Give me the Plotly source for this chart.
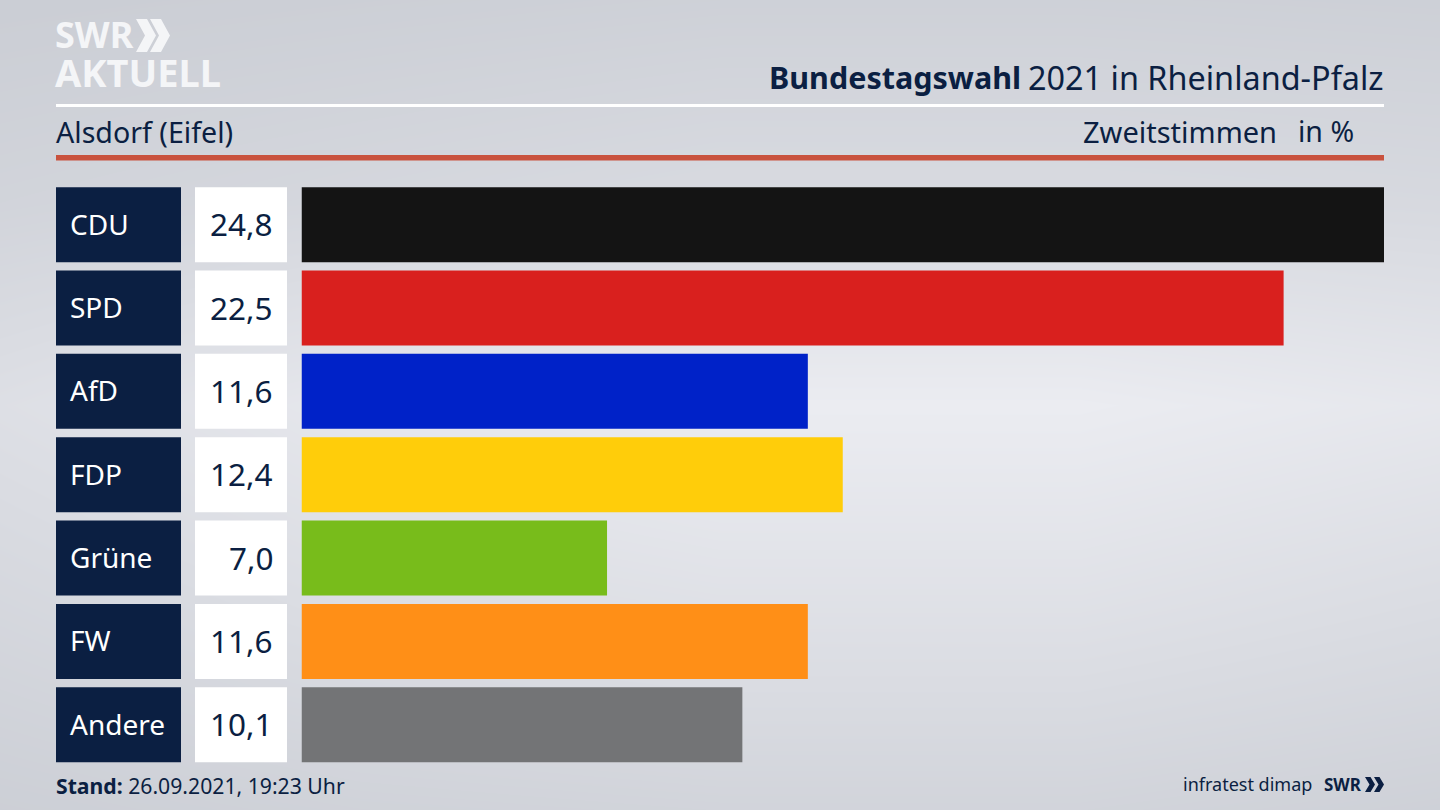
"""Bundestagswahl 2021 result panel for Alsdorf (Eifel), SWR style."""

import plotly.graph_objects as go

parties = ["CDU", "SPD", "AfD", "FDP", "Grüne", "FW", "Andere"]
shares = [24.8, 22.5, 11.6, 12.4, 7.0, 11.6, 10.1]
bar_colors = ["#141414", "#d9201e", "#0022c8", "#ffcd0a", "#78bc1b", "#ff8f17", "#737476"]

# background glow, light in the middle and darker to the edges
bg_levels = [
    [0.05, 0.10, 0.15, 0.15, 0.12],
    [0.25, 0.35, 0.45, 0.45, 0.40],
    [0.60, 0.85, 1.00, 1.00, 0.85],
    [0.35, 0.55, 0.65, 0.65, 0.50],
    [0.10, 0.20, 0.25, 0.25, 0.15],
]

NAVY = "#0b1f42"
LOGO = "#f4f5f7"
FONT = "Noto Sans"
W, H = 1440, 810


def px(x):
    return x / W


def py(y):
    return 1 - y / H


def text(x, y, s, size, anchor="left", color=NAVY, family=FONT):
    return dict(
        x=px(x), y=py(y), xref="paper", yref="paper", text=s, showarrow=False,
        xanchor=anchor, yanchor="middle", align=anchor,
        font=dict(family=family, size=size, color=color),
    )


def chevrons(x, top, bottom, width, gap, color):
    # two ">" marks of the SWR logo
    mid = (top + bottom) / 2
    thick = width * 0.55
    path = ""
    for i in range(2):
        x0 = x + i * gap
        path += (
            f"M{px(x0)},{py(top)} L{px(x0 + thick)},{py(top)} "
            f"L{px(x0 + width)},{py(mid)} L{px(x0 + thick)},{py(bottom)} "
            f"L{px(x0)},{py(bottom)} L{px(x0 + width - thick)},{py(mid)} Z "
        )
    return dict(type="path", xref="paper", yref="paper", path=path,
                fillcolor=color, line_width=0)


fig = go.Figure()

# the background has to sit on the first subplot, later ones draw over it
fig.add_trace(go.Heatmap(
    z=bg_levels, xaxis="x", yaxis="y", zsmooth="best", showscale=False,
    zmin=0, zmax=1, hoverinfo="skip",
    colorscale=[[0, "#c9ccd3"], [1, "#ebecf1"]],
))

# navy party panels, white value panels, then the real bars
fig.add_trace(go.Bar(
    x=[1] * len(parties), y=parties, orientation="h", xaxis="x2", yaxis="y2",
    marker=dict(color=NAVY, line_width=0), hoverinfo="skip",
))
fig.add_trace(go.Bar(
    x=[1] * len(parties), y=parties, orientation="h", xaxis="x3", yaxis="y2",
    marker=dict(color="#ffffff", line_width=0), hoverinfo="skip",
))
fig.add_trace(go.Bar(
    x=shares, y=parties, orientation="h", xaxis="x4", yaxis="y2",
    marker=dict(color=bar_colors, line_width=0), hoverinfo="skip",
))

annotations = [
    text(767, 77, "<b>Bundestagswahl</b>", 30.5),
    text(1386, 77, "2021 in Rheinland-Pfalz", 32.4, anchor="right"),
    text(54, 131, "Alsdorf (Eifel)", 28.6),
    text(1279, 131, "Zweitstimmen", 29, anchor="right"),
    text(1356, 131, "in %", 28.5, anchor="right"),
    text(54, 785, "<b>Stand:</b> 26.09.2021, 19:23 Uhr", 21.2),
    text(1314, 784, "infratest dimap", 18, anchor="right"),
    text(1322, 784, "<b>SWR</b>", 17),
    text(53, 35, "<b>SWR</b>", 36, color=LOGO),
    text(53, 72, "<b>AKTUELL</b>", 38, color=LOGO),
]
for party, share in zip(parties, shares):
    annotations.append(dict(
        x=0, y=party, xref="x2", yref="y2", text=party, showarrow=False,
        xanchor="left", xshift=12, yshift=1,
        font=dict(family=FONT, size=28, color="#ffffff"),
    ))
    annotations.append(dict(
        x=1, y=party, xref="x3", yref="y2", text=f"{share:.1f}".replace(".", ","),
        showarrow=False, xanchor="right", xshift=-12, yshift=1,
        font=dict(family=FONT, size=31.5, color=NAVY),
    ))

hidden = dict(visible=False, fixedrange=True)
fig.update_layout(
    width=W, height=H, autosize=False,
    margin=dict(l=0, r=0, t=0, b=0),
    paper_bgcolor="#dcdee3", plot_bgcolor="rgba(0,0,0,0)",
    showlegend=False, bargap=0.1, barmode="overlay",
    xaxis=dict(domain=[0, 1], range=[0, 4], anchor="y", **hidden),
    yaxis=dict(domain=[0, 1], range=[4, 0], anchor="x", **hidden),
    xaxis2=dict(domain=[px(56), px(181)], range=[0, 1], anchor="y2", **hidden),
    xaxis3=dict(domain=[px(195), px(287)], range=[0, 1], anchor="y2", **hidden),
    xaxis4=dict(domain=[px(301.5), px(1384)], range=[0, 24.8], anchor="y2", **hidden),
    yaxis2=dict(domain=[py(766.4), py(183)], type="category", anchor="x4",
                categoryorder="array", categoryarray=parties,
                range=[6.5, -0.5], **hidden),
    annotations=annotations,
    shapes=[
        dict(type="rect", xref="paper", yref="paper", x0=px(56), x1=px(1384),
             y0=py(107), y1=py(104), fillcolor="#ffffff", line_width=0),
        dict(type="rect", xref="paper", yref="paper", x0=px(56), x1=px(1384),
             y0=py(160.5), y1=py(155), fillcolor="#c9523e", line_width=0),
        chevrons(136, 19, 52, 20, 14, LOGO),
        chevrons(1365, 777, 792, 10, 9, NAVY),
    ],
)

fig.write_html(
    "out.html",
    config=dict(displayModeBar=False, staticPlot=True),
    post_script="document.body.style.margin='0';document.body.style.overflow='hidden';",
)
